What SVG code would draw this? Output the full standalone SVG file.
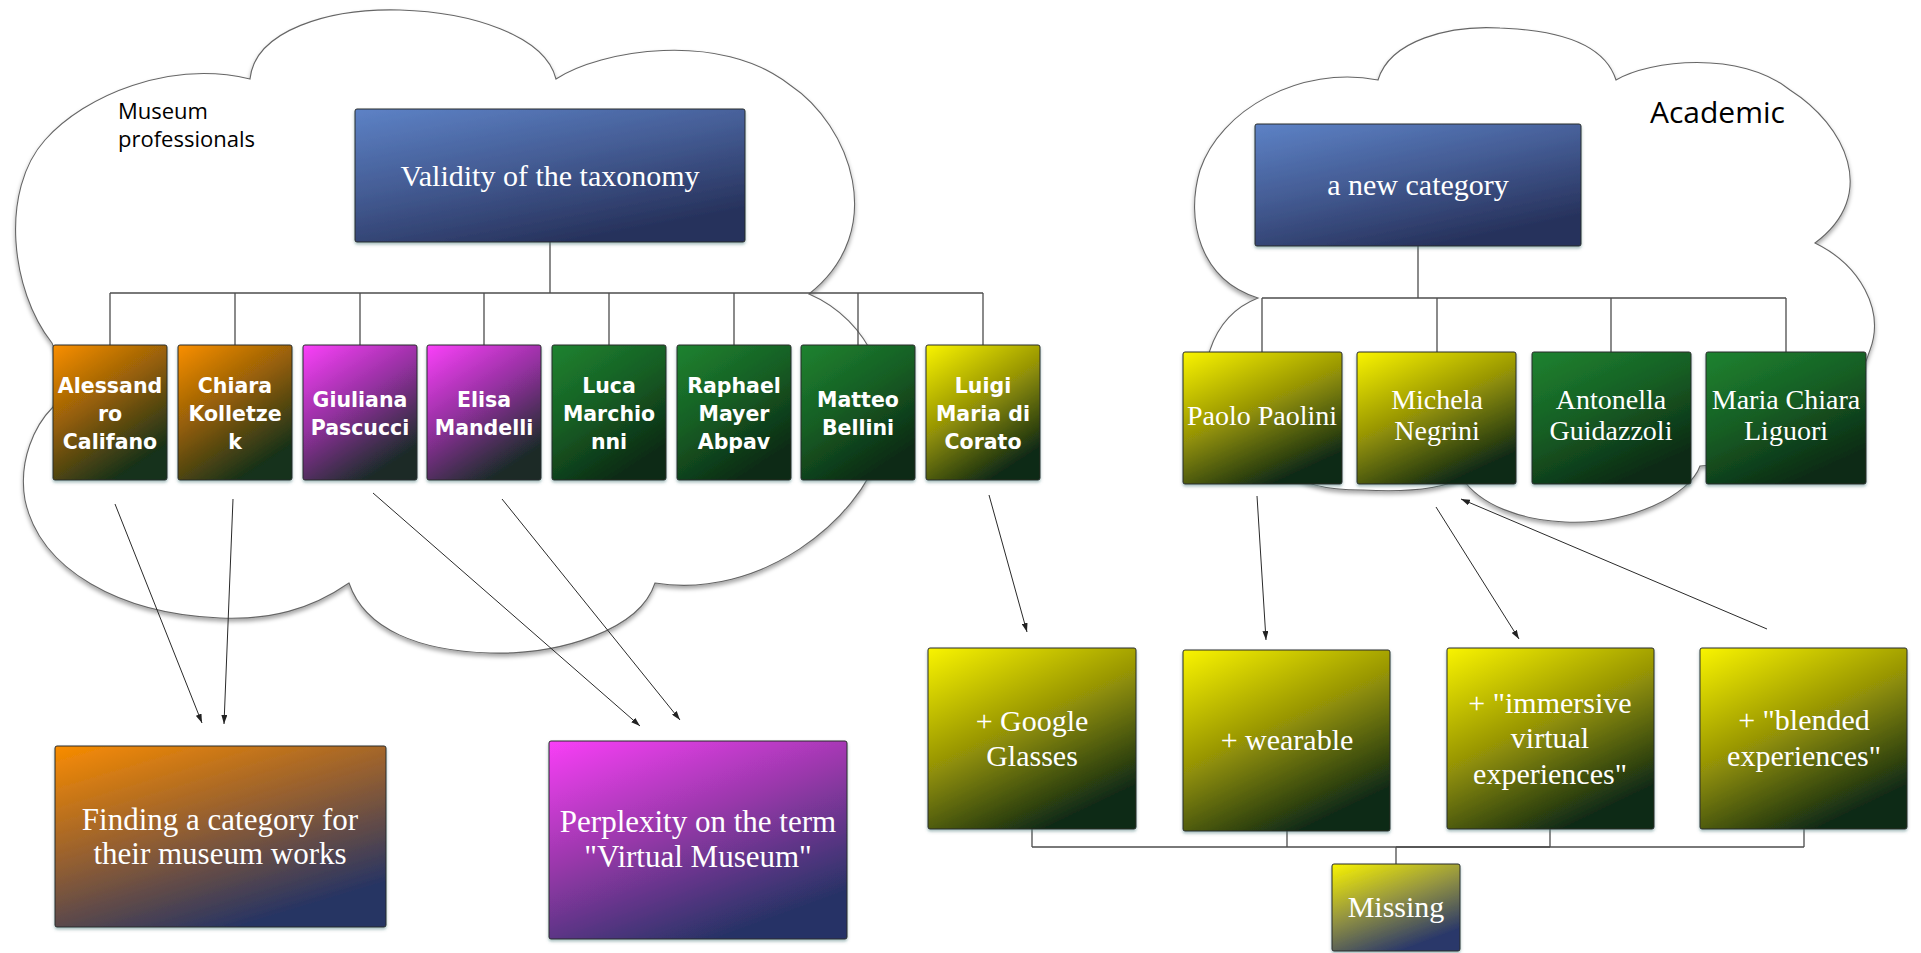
<svg xmlns="http://www.w3.org/2000/svg" width="1921" height="953" viewBox="0 0 1921 953">
<defs>
<linearGradient id="gBlue" x1="0" y1="0" x2="0.55" y2="1"><stop offset="0" stop-color="#5d82c6"/><stop offset="0.5" stop-color="#445c94"/><stop offset="1" stop-color="#27325c"/></linearGradient>
<linearGradient id="gOrange" x1="0" y1="0" x2="0.55" y2="1"><stop offset="0" stop-color="#fa8f00"/><stop offset="0.5" stop-color="#8f5c08"/><stop offset="1" stop-color="#14301a"/></linearGradient>
<linearGradient id="gMag" x1="0" y1="0" x2="0.55" y2="1"><stop offset="0" stop-color="#fb40fa"/><stop offset="0.5" stop-color="#9430a0"/><stop offset="1" stop-color="#1a2c28"/></linearGradient>
<linearGradient id="gGreen" x1="0" y1="0" x2="0.55" y2="1"><stop offset="0" stop-color="#1e8330"/><stop offset="0.5" stop-color="#165e24"/><stop offset="1" stop-color="#0c2a14"/></linearGradient>
<linearGradient id="gYellow" x1="0" y1="0" x2="0.55" y2="1"><stop offset="0" stop-color="#f9f400"/><stop offset="0.5" stop-color="#989606"/><stop offset="1" stop-color="#112a14"/></linearGradient>
<linearGradient id="gOrangeNavy" x1="0" y1="0" x2="0.55" y2="1"><stop offset="0" stop-color="#f98c00"/><stop offset="0.5" stop-color="#966030"/><stop offset="1" stop-color="#273463"/></linearGradient>
<linearGradient id="gMagNavy" x1="0" y1="0" x2="0.55" y2="1"><stop offset="0" stop-color="#f93ff7"/><stop offset="0.5" stop-color="#9838aa"/><stop offset="1" stop-color="#283366"/></linearGradient>
<linearGradient id="gYellowNavy" x1="0" y1="0" x2="0.55" y2="1"><stop offset="0" stop-color="#f9f400"/><stop offset="0.5" stop-color="#969640"/><stop offset="1" stop-color="#29376a"/></linearGradient>
<filter id="sh" x="-10%" y="-10%" width="120%" height="130%"><feDropShadow dx="0" dy="2" stdDeviation="1.5" flood-color="#4a7a7a" flood-opacity="0.5"/></filter>
<filter id="csh" x="-5%" y="-5%" width="110%" height="115%"><feDropShadow dx="0" dy="3" stdDeviation="2" flood-color="#000" flood-opacity="0.35"/></filter>
<marker id="ah" markerUnits="userSpaceOnUse" markerWidth="10" markerHeight="6" refX="9" refY="3" orient="auto"><path d="M0,0 L9,3 L0,6 z" fill="#222"/></marker>
<style>
.cloud{fill:#fff;stroke:#666;stroke-width:1.1;filter:url(#csh)}
.box{stroke:#2b2b2b;stroke-width:1;filter:url(#sh)}
.conn{stroke:#4d4d4d;stroke-width:1.3;fill:none}
.arr{stroke:#2a2a2a;stroke-width:1;fill:none;marker-end:url(#ah)}
.serif{font-family:"Liberation Serif",serif;fill:#fff;text-anchor:middle}
.tech{font-family:"DejaVu Sans",sans-serif;font-weight:bold;fill:#fff;text-anchor:middle;font-size:20.5px}
.label{font-family:"Open Sans",sans-serif;fill:#000}
</style>
</defs>
<rect width="1921" height="953" fill="#fff"/>

<g id="cloud-museum">
<path class="cloud" d="M52 343 C10 290,0 190,45 140 C85 95,170 60,250 79 C255 30,330 8,400 10 C470 12,545 35,556 79 C600 50,720 30,790 85 C850 125,890 230,809 294 C870 320,900 390,880 450 C860 520,760 600,655 583 C640 630,560 655,490 653 C420 651,365 630,349 583 C310 610,270 620,220 618 C120 614,40 570,25 500 C18 460,35 425,53 407 C60 385,60 360,52 343 Z"/>
<text class="label" x="118" y="119" font-size="22">Museum</text>
<text class="label" x="118" y="147" font-size="22">professionals</text>
</g>

<g id="cloud-academic">
<path class="cloud" d="M1258 298 C1200 280,1185 220,1200 170 C1220 110,1300 65,1378 80 C1390 40,1450 25,1500 28 C1560 30,1605 45,1616 80 C1650 60,1740 50,1790 90 C1845 125,1880 195,1815 243 C1860 265,1885 310,1870 350 C1855 400,1790 460,1700 466 C1690 495,1630 525,1565 522 C1520 520,1480 505,1462 478 C1440 490,1400 492,1363 490 C1330 490,1300 485,1290 470 C1220 440,1195 390,1210 350 C1220 320,1240 305,1258 298 Z"/>
<text class="label" x="1650" y="123" font-size="30">Academic</text>
</g>

<g id="connectors">
<path class="conn" d="M550 242 V293 M110 293 H983 M110 293 V345 M235 293 V345 M360 293 V345 M484 293 V345 M609 293 V345 M734 293 V345 M858 293 V345 M983 293 V345"/>
<path class="conn" d="M1418 246 V298 M1262 298 H1786 M1262 298 V352 M1437 298 V352 M1611 298 V352 M1786 298 V352"/>
<path class="conn" d="M1032 829 V847 M1287 831 V847 M1550 829 V847 M1804 829 V847 M1032 847 H1804 M1396 847 V864"/>
<path class="conn" d="M1396 847 H1550" stroke="#1e1e1e"/>
<line class="arr" x1="115" y1="504" x2="202" y2="723"/>
<line class="arr" x1="233" y1="499" x2="224" y2="724"/>
<line class="arr" x1="373" y1="493" x2="640" y2="726"/>
<line class="arr" x1="502" y1="499" x2="680" y2="720"/>
<line class="arr" x1="989" y1="495" x2="1027" y2="632"/>
<line class="arr" x1="1257" y1="496" x2="1266" y2="640"/>
<line class="arr" x1="1436" y1="507" x2="1519" y2="639"/>
<line class="arr" x1="1767" y1="629" x2="1461" y2="499"/>
</g>

<g id="validity">
<rect class="box" x="355" y="109" width="390" height="133" rx="2" fill="url(#gBlue)"/>
<text class="serif" x="550" y="186" font-size="30">Validity of the taxonomy</text>
</g>

<g id="alessandro">
<rect class="box" x="53" y="345" width="114" height="135" rx="2" fill="url(#gOrange)"/>
<text class="tech" x="110" y="393">Alessand</text><text class="tech" x="110" y="421">ro</text><text class="tech" x="110" y="449">Califano</text>
</g>
<g id="chiara">
<rect class="box" x="178" y="345" width="114" height="135" rx="2" fill="url(#gOrange)"/>
<text class="tech" x="235" y="393">Chiara</text><text class="tech" x="235" y="421">Kolletze</text><text class="tech" x="235" y="449">k</text>
</g>
<g id="giuliana">
<rect class="box" x="303" y="345" width="114" height="135" rx="2" fill="url(#gMag)"/>
<text class="tech" x="360" y="407">Giuliana</text><text class="tech" x="360" y="435">Pascucci</text>
</g>
<g id="elisa">
<rect class="box" x="427" y="345" width="114" height="135" rx="2" fill="url(#gMag)"/>
<text class="tech" x="484" y="407">Elisa</text><text class="tech" x="484" y="435">Mandelli</text>
</g>
<g id="luca">
<rect class="box" x="552" y="345" width="114" height="135" rx="2" fill="url(#gGreen)"/>
<text class="tech" x="609" y="393">Luca</text><text class="tech" x="609" y="421">Marchio</text><text class="tech" x="609" y="449">nni</text>
</g>
<g id="raphael">
<rect class="box" x="677" y="345" width="114" height="135" rx="2" fill="url(#gGreen)"/>
<text class="tech" x="734" y="393">Raphael</text><text class="tech" x="734" y="421">Mayer</text><text class="tech" x="734" y="449">Abpav</text>
</g>
<g id="matteo">
<rect class="box" x="801" y="345" width="114" height="135" rx="2" fill="url(#gGreen)"/>
<text class="tech" x="858" y="407">Matteo</text><text class="tech" x="858" y="435">Bellini</text>
</g>
<g id="luigi">
<rect class="box" x="926" y="345" width="114" height="135" rx="2" fill="url(#gYellow)"/>
<text class="tech" x="983" y="393">Luigi</text><text class="tech" x="983" y="421">Maria di</text><text class="tech" x="983" y="449">Corato</text>
</g>

<g id="finding">
<rect class="box" x="55" y="746" width="331" height="181" rx="2" fill="url(#gOrangeNavy)"/>
<text class="serif" x="220" y="830" font-size="31">Finding a category for</text>
<text class="serif" x="220" y="864" font-size="31">their museum works</text>
</g>
<g id="perplexity">
<rect class="box" x="549" y="741" width="298" height="198" rx="2" fill="url(#gMagNavy)"/>
<text class="serif" x="698" y="832" font-size="31">Perplexity on the term</text>
<text class="serif" x="698" y="867" font-size="31">"Virtual Museum"</text>
</g>

<g id="new-category">
<rect class="box" x="1255" y="124" width="326" height="122" rx="2" fill="url(#gBlue)"/>
<text class="serif" x="1418" y="195" font-size="30">a new category</text>
</g>
<g id="paolo">
<rect class="box" x="1183" y="352" width="159" height="132" rx="2" fill="url(#gYellow)"/>
<text class="serif" x="1262" y="425" font-size="28">Paolo Paolini</text>
</g>
<g id="michela">
<rect class="box" x="1357" y="352" width="159" height="132" rx="2" fill="url(#gYellow)"/>
<text class="serif" x="1437" y="409" font-size="28">Michela</text><text class="serif" x="1437" y="440" font-size="28">Negrini</text>
</g>
<g id="antonella">
<rect class="box" x="1532" y="352" width="159" height="132" rx="2" fill="url(#gGreen)"/>
<text class="serif" x="1611" y="409" font-size="28">Antonella</text><text class="serif" x="1611" y="440" font-size="28">Guidazzoli</text>
</g>
<g id="maria-chiara">
<rect class="box" x="1706" y="352" width="160" height="132" rx="2" fill="url(#gGreen)"/>
<text class="serif" x="1786" y="409" font-size="28">Maria Chiara</text><text class="serif" x="1786" y="440" font-size="28">Liguori</text>
</g>

<g id="google-glasses">
<rect class="box" x="928" y="648" width="208" height="181" rx="2" fill="url(#gYellow)"/>
<text class="serif" x="1032" y="731" font-size="30">+ Google</text><text class="serif" x="1032" y="766" font-size="30">Glasses</text>
</g>
<g id="wearable">
<rect class="box" x="1183" y="650" width="207" height="181" rx="2" fill="url(#gYellow)"/>
<text class="serif" x="1287" y="750" font-size="30">+ wearable</text>
</g>
<g id="immersive">
<rect class="box" x="1447" y="648" width="207" height="181" rx="2" fill="url(#gYellow)"/>
<text class="serif" x="1550" y="713" font-size="30">+ "immersive</text><text class="serif" x="1550" y="748" font-size="30">virtual</text><text class="serif" x="1550" y="784" font-size="30">experiences"</text>
</g>
<g id="blended">
<rect class="box" x="1700" y="648" width="207" height="181" rx="2" fill="url(#gYellow)"/>
<text class="serif" x="1804" y="730" font-size="30">+ "blended</text><text class="serif" x="1804" y="766" font-size="30">experiences"</text>
</g>
<g id="missing">
<rect class="box" x="1332" y="864" width="128" height="87" rx="2" fill="url(#gYellowNavy)"/>
<text class="serif" x="1396" y="917" font-size="30">Missing</text>
</g>
</svg>
